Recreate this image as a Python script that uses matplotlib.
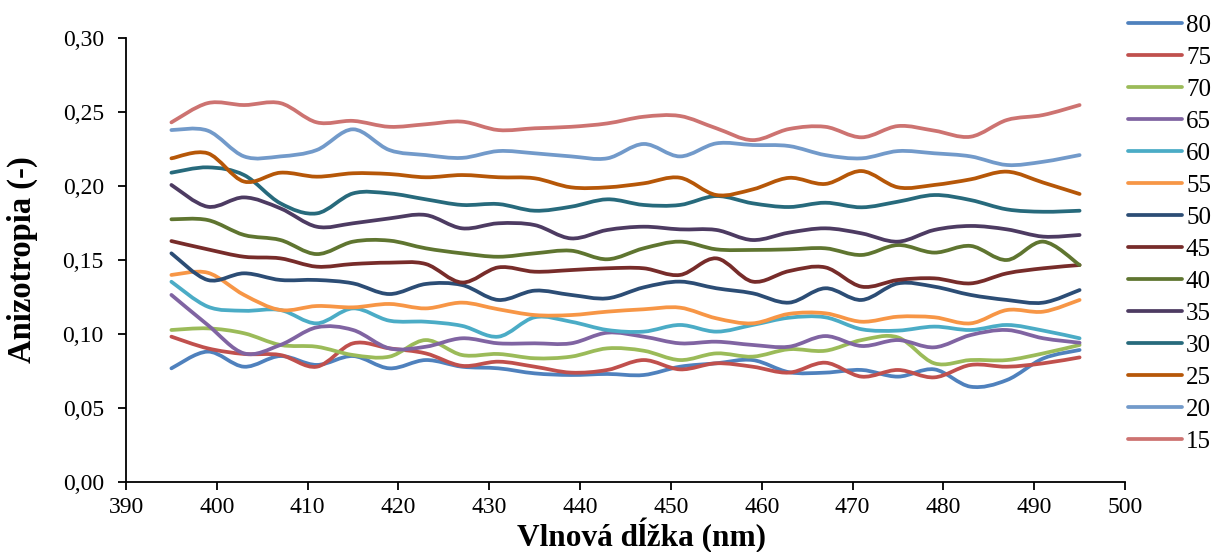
import numpy as np
import matplotlib
matplotlib.use('Agg')
import matplotlib.pyplot as plt
from matplotlib.path import Path
from matplotlib.patches import PathPatch
from matplotlib.lines import Line2D
from matplotlib.ticker import FuncFormatter, MultipleLocator

plt.rcParams['font.family'] = ['Liberation Serif', 'DejaVu Serif']

wavelengths = [395, 399, 403, 407, 411, 415, 419, 423, 427, 431, 435, 439, 443,
               447, 451, 455, 459, 463, 467, 471, 475, 479, 483, 487, 491, 495]

series_labels = ['80', '75', '70', '65', '60', '55', '50', '45', '40', '35', '30', '25', '20', '15']

s80 = [0.0768, 0.0881, 0.0779, 0.0851, 0.0791, 0.0851, 0.0768, 0.0824, 0.0779, 0.0768, 0.0734, 0.0723, 0.0730,
       0.0723, 0.0779, 0.0802, 0.0824, 0.0742, 0.0739, 0.0757, 0.0712, 0.0761, 0.0644, 0.0689, 0.0835, 0.0892]
s75 = [0.0982, 0.0903, 0.0865, 0.0858, 0.0779, 0.0937, 0.0903, 0.0869, 0.0785, 0.0813, 0.0779, 0.0739, 0.0757,
       0.0824, 0.0761, 0.0802, 0.0779, 0.0739, 0.0806, 0.0712, 0.0757, 0.0707, 0.0791, 0.0779, 0.0802, 0.0842]
s70 = [0.1027, 0.1038, 0.1005, 0.0926, 0.0914, 0.0858, 0.0847, 0.0959, 0.0858, 0.0865, 0.0836, 0.0847, 0.0903,
       0.0887, 0.0824, 0.0869, 0.0847, 0.0897, 0.0887, 0.0959, 0.0977, 0.0802, 0.0824, 0.0824, 0.0869, 0.0926]
s65 = [0.1264, 0.1061, 0.0869, 0.0926, 0.1045, 0.1027, 0.0903, 0.0914, 0.0971, 0.0937, 0.0937, 0.0937, 0.1009,
       0.0982, 0.0937, 0.0948, 0.0926, 0.0914, 0.0986, 0.0919, 0.0959, 0.0910, 0.0993, 0.1027, 0.0971, 0.0941]
s60 = [0.1353, 0.1185, 0.1157, 0.1162, 0.1072, 0.1173, 0.1090, 0.1083, 0.1055, 0.0982, 0.1113, 0.1083, 0.1027,
       0.1016, 0.1061, 0.1016, 0.1061, 0.1110, 0.1113, 0.1032, 0.1023, 0.1050, 0.1027, 0.1061, 0.1023, 0.0971]
s55 = [0.1399, 0.1414, 0.1264, 0.1162, 0.1189, 0.1180, 0.1203, 0.1173, 0.1212, 0.1167, 0.1128, 0.1128, 0.1151,
       0.1167, 0.1178, 0.1106, 0.1072, 0.1136, 0.1140, 0.1083, 0.1117, 0.1113, 0.1072, 0.1162, 0.1151, 0.1230]
s50 = [0.1545, 0.1365, 0.1410, 0.1365, 0.1365, 0.1342, 0.1270, 0.1338, 0.1331, 0.1230, 0.1293, 0.1264, 0.1241,
       0.1315, 0.1354, 0.1309, 0.1275, 0.1212, 0.1309, 0.1230, 0.1342, 0.1320, 0.1264, 0.1230, 0.1212, 0.1297]
s45 = [0.1628, 0.1572, 0.1522, 0.1511, 0.1455, 0.1473, 0.1482, 0.1473, 0.1348, 0.1450, 0.1421, 0.1432, 0.1444,
       0.1444, 0.1399, 0.1511, 0.1354, 0.1425, 0.1450, 0.1320, 0.1365, 0.1376, 0.1342, 0.1410, 0.1444, 0.1466]
s40 = [0.1775, 0.1770, 0.1669, 0.1635, 0.1540, 0.1624, 0.1631, 0.1579, 0.1545, 0.1522, 0.1545, 0.1563, 0.1505,
       0.1579, 0.1624, 0.1572, 0.1568, 0.1572, 0.1579, 0.1534, 0.1601, 0.1550, 0.1595, 0.1500, 0.1624, 0.1466]
s35 = [0.2007, 0.1860, 0.1923, 0.1849, 0.1725, 0.1748, 0.1781, 0.1804, 0.1714, 0.1748, 0.1736, 0.1646, 0.1703,
       0.1725, 0.1707, 0.1703, 0.1635, 0.1685, 0.1714, 0.1680, 0.1624, 0.1703, 0.1730, 0.1707, 0.1658, 0.1669]
s30 = [0.2090, 0.2126, 0.2074, 0.1883, 0.1815, 0.1950, 0.1950, 0.1910, 0.1872, 0.1878, 0.1833, 0.1860, 0.1910,
       0.1872, 0.1872, 0.1932, 0.1883, 0.1858, 0.1887, 0.1856, 0.1894, 0.1939, 0.1905, 0.1842, 0.1826, 0.1833]
s25 = [0.2187, 0.2221, 0.2030, 0.2090, 0.2063, 0.2086, 0.2081, 0.2059, 0.2074, 0.2059, 0.2052, 0.1991, 0.1991,
       0.2018, 0.2056, 0.1939, 0.1977, 0.2055, 0.2014, 0.2101, 0.1991, 0.2007, 0.2045, 0.2097, 0.2023, 0.1946]
s20 = [0.2378, 0.2374, 0.2200, 0.2200, 0.2243, 0.2383, 0.2243, 0.2209, 0.2190, 0.2236, 0.2221, 0.2200, 0.2187,
       0.2284, 0.2200, 0.2288, 0.2277, 0.2270, 0.2209, 0.2187, 0.2236, 0.2221, 0.2200, 0.2142, 0.2164, 0.2209]
s15 = [0.2430, 0.2560, 0.2547, 0.2560, 0.2430, 0.2440, 0.2400, 0.2417, 0.2435, 0.2378, 0.2390, 0.2400, 0.2423,
       0.2468, 0.2473, 0.2390, 0.2310, 0.2385, 0.2400, 0.2329, 0.2405, 0.2374, 0.2333, 0.2446, 0.2480, 0.2547]

series_values = [s80, s75, s70, s65, s60, s55, s50, s45, s40, s35, s30, s25, s20, s15]

colors = ['#4F81BD', '#C0504D', '#9BBB59', '#8064A2', '#4BACC6', '#F79646', '#2C4D75',
          '#772C2A', '#5F7530', '#4D3B62', '#276A7C', '#B65708', '#729ACA', '#CD7371']

x_ticks = [390, 400, 410, 420, 430, 440, 450, 460, 470, 480, 490, 500]


def smooth_path(x, y):
    pts = np.column_stack([np.asarray(x, float), np.asarray(y, float)])
    n = len(pts)
    verts = [pts[0]]
    codes = [Path.MOVETO]
    for i in range(n - 1):
        p0 = pts[i - 1] if i > 0 else pts[i]
        p1 = pts[i]
        p2 = pts[i + 1]
        p3 = pts[i + 2] if i + 2 < n else pts[i + 1]
        c1 = p1 + (p2 - p0) / 6.0
        c2 = p2 - (p3 - p1) / 6.0
        verts += [c1, c2, p2]
        codes += [Path.CURVE4] * 3
    return Path(verts, codes)


fig = plt.figure(figsize=(12.14, 5.52), dpi=100)
ax = fig.add_axes([126 / 1214, (552 - 482) / 552, (1125 - 126) / 1214, (482 - 38) / 552])

handles = []
for lab, vals, col in zip(series_labels, series_values, colors):
    patch = PathPatch(smooth_path(wavelengths, vals), fill=False, edgecolor=col,
                      lw=2.7, capstyle='round', joinstyle='round')
    ax.add_patch(patch)
    handles.append(Line2D([], [], color=col, lw=2.7, solid_capstyle='round', label=lab))

ax.set_xlim(390, 500)
ax.set_ylim(0, 0.30)
ax.set_xticks(x_ticks)
ax.yaxis.set_major_locator(MultipleLocator(0.05))
ax.yaxis.set_major_formatter(FuncFormatter(lambda v, p: f"{v:.2f}".replace('.', ',')))

for s in ['top', 'right']:
    ax.spines[s].set_visible(False)
for s in ['left', 'bottom']:
    ax.spines[s].set_linewidth(1.3)
    ax.spines[s].set_color('black')
ax.tick_params(axis='both', direction='out', length=6, width=1.3, labelsize=17, colors='black')
ax.tick_params(axis='y', pad=10)
ax.tick_params(axis='x', pad=5)

ax.set_xlabel('Vlnová dĺžka (nm)', fontsize=22.5, fontweight='bold', va='baseline')
ax.set_ylabel('Anizotropia (-)', fontsize=23.5, fontweight='bold')
ax.xaxis.set_label_coords(0.5165, (482 - 546) / 444)
ax.yaxis.set_label_coords(-0.088, 0.5)

leg = fig.legend(handles=handles, loc='upper left', bbox_to_anchor=(1128 / 1214, 1 - 14 / 552),
                 frameon=False, fontsize=18, handlelength=2.16, handletextpad=0.16,
                 labelspacing=0.38, borderaxespad=0, borderpad=0)

fig.savefig('out.png', dpi=100)
